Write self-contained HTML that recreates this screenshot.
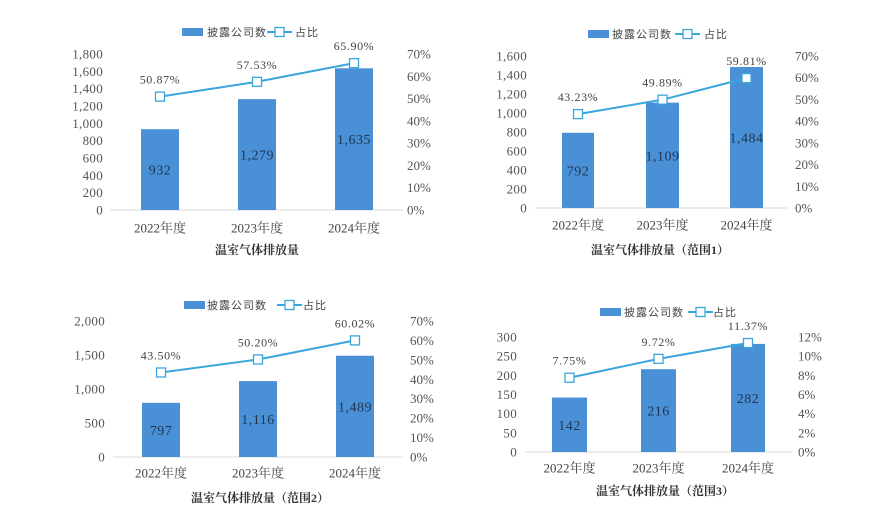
<!DOCTYPE html>
<html><head><meta charset="utf-8"><style>
body{margin:0;background:#fff;}
svg{display:block;font-family:"Liberation Serif","Noto Serif CJK SC",serif;}
</style></head><body>
<svg id="s" width="882" height="530" xmlns="http://www.w3.org/2000/svg"></svg>
<script>
const charts=[
 {yl:103,yr:407,top:54,base:210,ymax:1800,ystep:200,rmax:0.7,rstep:0.1,ax0:110,ax1:403,
  bars:[[141,179],[238,276],[335,373]],vals:[932,1279,1635],pct:[50.87,57.53,65.90],
  leg:[182,32,207,267,295],xly:228,ty:250,tx:257,title:"温室气体排放量"},
 {yl:527,yr:795,top:56,base:208,ymax:1600,ystep:200,rmax:0.7,rstep:0.1,ax0:535,ax1:787,
  bars:[[562,594],[646,679],[730,763]],vals:[792,1109,1484],pct:[43.23,49.89,59.81],
  leg:[588,34,612,675,704],xly:225,ty:250,tx:660,title:"温室气体排放量（范围1）"},
 {yl:105,yr:410,top:321,base:457,ymax:2000,ystep:500,rmax:0.7,rstep:0.1,ax0:113,ax1:403,
  bars:[[142,180],[239,277],[336,374]],vals:[797,1116,1489],pct:[43.50,50.20,60.02],
  leg:[184,305,207,277,303],xly:473,ty:498,tx:260,title:"温室气体排放量（范围2）"},
 {yl:517,yr:798,top:337,base:452,ymax:300,ystep:50,rmax:0.12,rstep:0.02,ax0:525,ax1:792,
  bars:[[552,587],[641,676],[731,765]],vals:[142,216,282],pct:[7.75,9.72,11.37],
  leg:[600,312,624,688,713],xly:468,ty:491,tx:665,title:"温室气体排放量（范围3）"}
];
let h='';
const fmt=v=>v.toLocaleString('en-US');
for(const c of charts){
 const H=c.base-c.top;
 const y=v=>c.base-v/c.ymax*H, yp=p=>c.base-p/100/c.rmax*H;
 h+=`<line x1="${c.ax0}" y1="${c.base}" x2="${c.ax1}" y2="${c.base}" stroke="#d9d9d9"/>`;
 for(let v=0;v<=c.ymax+1e-9;v+=c.ystep) h+=`<text x="${c.yl}" y="${y(v)+4.5}" text-anchor="end" font-size="13" letter-spacing="0.3" fill="#555">${fmt(v)}</text>`;
 const n=Math.round(c.rmax/c.rstep);
 for(let i=0;i<=n;i++){const p=i*c.rstep*100;h+=`<text x="${c.yr}" y="${yp(p)+4.5}" font-size="13" fill="#555">${Math.round(p)}%</text>`;}
 const yrs=["2022年度","2023年度","2024年度"];
 let pts=[];
 c.bars.forEach((b,i)=>{
  const cx=(b[0]+b[1])/2, t=y(c.vals[i]);
  h+=`<rect x="${b[0]}" y="${t}" width="${b[1]-b[0]}" height="${c.base-t}" fill="#4a90d6"/>`;
  h+=`<text x="${cx}" y="${(t+c.base)/2+5}" text-anchor="middle" font-size="14" letter-spacing="0.5" fill="#1f3550">${fmt(c.vals[i])}</text>`;
  h+=`<text x="${cx}" y="${c.xly+4.5}" text-anchor="middle" font-size="13" fill="#444">${yrs[i]}</text>`;
  pts.push([cx,yp(c.pct[i])]);
 });
 h+=`<polyline points="${pts.map(p=>p.join(',')).join(' ')}" fill="none" stroke="#3aa6dc" stroke-width="2"/>`;
 pts.forEach((p,i)=>{
  h+=`<rect x="${p[0]-4.5}" y="${p[1]-4.5}" width="9" height="9" fill="#fff" stroke="#3aa6dc" stroke-width="1.3"/>`;
  h+=`<text x="${p[0]}" y="${p[1]-13}" text-anchor="middle" font-size="12" letter-spacing="0.6" fill="#444">${c.pct[i].toFixed(2)}%</text>`;
 });
 const L=c.leg;
 h+=`<rect x="${L[0]}" y="${L[1]-4}" width="21" height="8" fill="#4a90d6"/>`;
 h+=`<text x="${L[2]}" y="${L[1]+4}" font-size="11" fill="#444" font-family="Liberation Sans,Noto Sans CJK SC,sans-serif" letter-spacing="1">披露公司数</text>`;
 h+=`<line x1="${L[3]}" y1="${L[1]}" x2="${L[3]+25}" y2="${L[1]}" stroke="#3aa6dc" stroke-width="2"/>`;
 h+=`<rect x="${L[3]+8}" y="${L[1]-4.5}" width="9" height="9" fill="#fff" stroke="#3aa6dc" stroke-width="1.3"/>`;
 h+=`<text x="${L[4]}" y="${L[1]+4}" font-size="11" fill="#444" font-family="Liberation Sans,Noto Sans CJK SC,sans-serif" letter-spacing="1">占比</text>`;
 h+=`<text x="${c.tx}" y="${c.ty+4}" text-anchor="middle" font-size="12" font-weight="bold" fill="#333">${c.title}</text>`;
}
document.getElementById('s').innerHTML=h;
</script>
</body></html>
